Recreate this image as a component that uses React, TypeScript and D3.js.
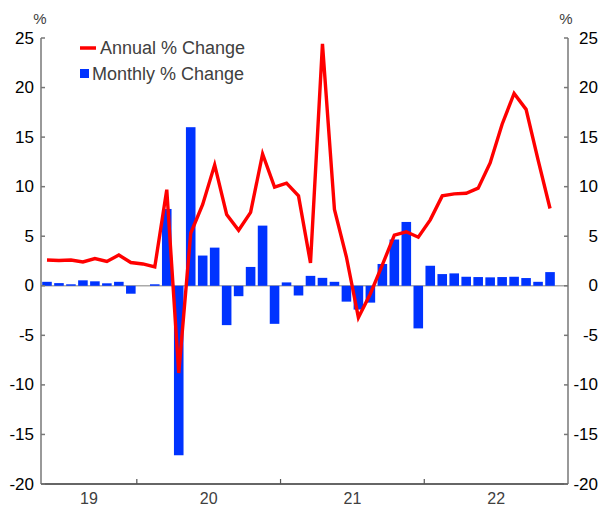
import React from "react";
import * as d3 from "d3";

// Months from May 2019 to Dec 2022
const months: string[] = (() => {
  const out: string[] = [];
  for (let y = 2019; y <= 2022; y++) {
    for (let m = 1; m <= 12; m++) {
      if (y === 2019 && m < 5) continue;
      out.push(`${y}-${String(m).padStart(2, "0")}`);
    }
  }
  return out;
})();

const monthlyChange: number[] = [
  0.4, 0.27, 0.15, 0.55, 0.45, 0.25, 0.4, -0.8,
  0.0, 0.15, 7.75, -17.1, 16.0, 3.05, 3.85, -3.97,
  -1.05, 1.9, 6.07, -3.84, 0.34, -0.98, 1.0, 0.8,
  0.4, -1.6, -2.4, -1.7, 2.2, 4.67, 6.44, -4.3,
  2.02, 1.18, 1.25, 0.91, 0.88, 0.85, 0.88, 0.91,
  0.78, 0.4, 1.38,
];

const annualChange: number[] = [
  2.6, 2.55, 2.6, 2.4, 2.75, 2.45, 3.1, 2.35, 2.2, 1.9,
  9.7, -8.8, 5.3, 8.2, 12.2, 7.2, 5.6, 7.4, 13.3, 9.95,
  10.35, 9.07, 2.3, 24.4, 7.7, 2.9, -3.2, -0.8, 2.1, 5.1,
  5.45, 4.9, 6.65, 9.07, 9.27, 9.34, 9.85, 12.4, 16.3, 19.4,
  17.8, 12.7, 7.8,
];

const yTicks: number[] = [25, 20, 15, 10, 5, 0, -5, -10, -15, -20];
const yearLabels: string[] = ["19", "20", "21", "22"];
const legendLabels: string[] = ["Annual % Change", "Monthly % Change"];

const W = 600;
const H = 507;
const left = 41;
const right = 568;
const top = 38;
const bottom = 484;

const RED = "#ff0000";
const BLUE = "#0033ff";
const FONT = "'Liberation Sans', Arial, sans-serif";

export default function App() {
  const x = d3
    .scaleBand<number>()
    .domain(months.map((_, i) => i))
    .range([left, right])
    .paddingInner(0.2)
    .paddingOuter(0.1);
  const step = x.step();
  const y = d3.scaleLinear().domain([-20, 25]).range([bottom, top]);

  const cx = (i: number) => (x(i) as number) + x.bandwidth() / 2;

  const line = d3
    .line<number>()
    .x((_, i) => cx(i))
    .y((d) => y(d));

  const yearStarts = yearLabels.map((yl) =>
    months.findIndex((m) => m.startsWith("20" + yl))
  );
  const yearEdges = yearStarts.map((s) => (x(s) as number) - step * 0.1);

  return (
    <div style={{ position: "fixed", left: 0, top: 0 }}>
      <svg width={W} height={H} style={{ display: "block", background: "#fff" }}>
        {/* zero line */}
        <line x1={left} x2={right} y1={y(0)} y2={y(0)} stroke="#aaaaaa" strokeWidth={1.5} />
        {/* bars */}
        {monthlyChange.map((v, i) => (
          <rect
            key={i}
            x={x(i)}
            width={x.bandwidth()}
            y={Math.min(y(0), y(v))}
            height={Math.abs(y(v) - y(0))}
            fill={BLUE}
          />
        ))}
        {/* line */}
        <path
          d={line(annualChange) || ""}
          fill="none"
          stroke={RED}
          strokeWidth={3.4}
          strokeLinejoin="miter"
        />
        {/* axes */}
        <line x1={left} x2={left} y1={top} y2={bottom} stroke="#777" strokeWidth={1.5} />
        <line x1={right} x2={right} y1={top} y2={bottom} stroke="#777" strokeWidth={1.5} />
        <line x1={left} x2={right} y1={bottom} y2={bottom} stroke="#333" strokeWidth={1.5} />
        {yTicks.map((t) => (
          <g key={t}>
            <line x1={left} x2={left + 4} y1={y(t)} y2={y(t)} stroke="#777" strokeWidth={1.5} />
            <line x1={right - 4} x2={right} y1={y(t)} y2={y(t)} stroke="#777" strokeWidth={1.5} />
            <text x={34} y={y(t)} textAnchor="end" dominantBaseline="central" fontFamily={FONT} fontSize={17} fill="#000">
              {t}
            </text>
            <text x={598} y={y(t)} textAnchor="end" dominantBaseline="central" fontFamily={FONT} fontSize={17} fill="#000">
              {t}
            </text>
          </g>
        ))}
        {/* x ticks */}
        {yearEdges.slice(1).map((ex, i) => (
          <line key={i} x1={ex} x2={ex} y1={bottom} y2={bottom - 5} stroke="#555" strokeWidth={1.2} />
        ))}
        {yearLabels.map((yl, i) => {
          const start = i === 0 ? left : yearEdges[i];
          const end = i === yearLabels.length - 1 ? right : yearEdges[i + 1];
          return (
            <text key={yl} x={(start + end) / 2} y={498} textAnchor="middle" dominantBaseline="central" fontFamily={FONT} fontSize={16} fill="#404040">
              {yl}
            </text>
          );
        })}
        {/* % labels */}
        <text x={40} y={18} textAnchor="middle" dominantBaseline="central" fontFamily={FONT} fontSize={15} fill="#404040">%</text>
        <text x={566} y={18} textAnchor="middle" dominantBaseline="central" fontFamily={FONT} fontSize={15} fill="#404040">%</text>
        {/* legend */}
        <line x1={80} x2={96} y1={48} y2={48} stroke={RED} strokeWidth={3.5} />
        <text x={100} y={48} dominantBaseline="central" fontFamily={FONT} fontSize={18} fill="#404040">
          {legendLabels[0]}
        </text>
        <rect x={80} y={69} width={9} height={9} fill={BLUE} />
        <text x={92} y={73.5} dominantBaseline="central" fontFamily={FONT} fontSize={18} fill="#404040">
          {legendLabels[1]}
        </text>
      </svg>
    </div>
  );
}
